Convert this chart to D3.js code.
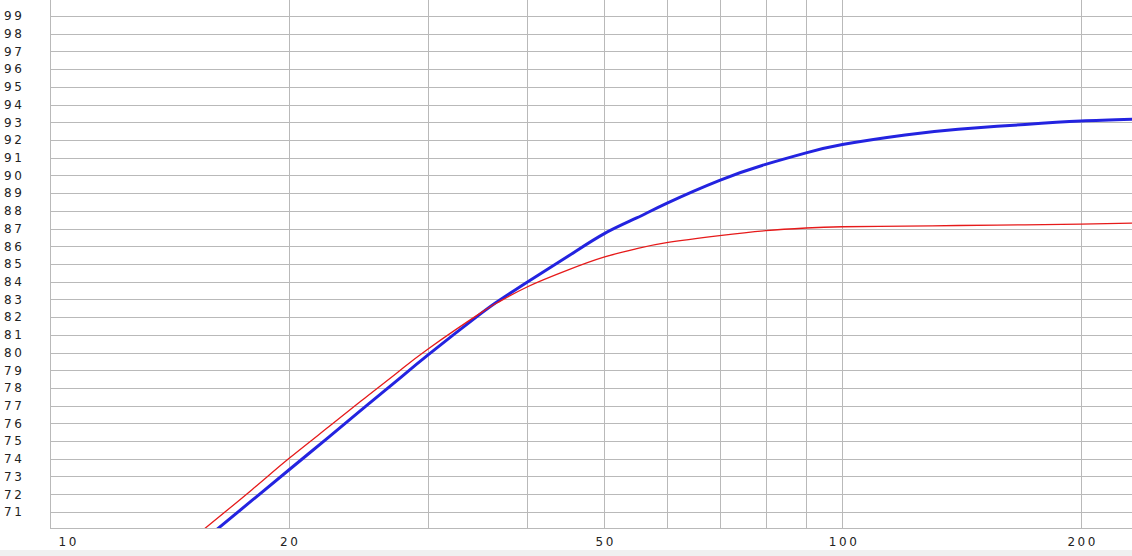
<!DOCTYPE html>
<html>
<head>
<meta charset="utf-8">
<script src="https://cdn.jsdelivr.net/npm/d3@7"></script>
<style>
  html, body { margin: 0; padding: 0; background: #ffffff; }
  svg { display: block; }
</style>
</head>
<body>
<svg id="chart" width="1132" height="556"></svg>
<script>
// ---- data ----
const xGridValues = [10, 20, 30, 40, 50, 60, 70, 80, 90, 100, 200];
const xTickLabels = [10, 20, 50, 100, 200];
const yTickValues = [71, 72, 73, 74, 75, 76, 77, 78, 79, 80, 81, 82, 83, 84, 85,
                     86, 87, 88, 89, 90, 91, 92, 93, 94, 95, 96, 97, 98, 99];

const blueX = [16.23, 18, 20, 22.5, 25, 27.5, 30, 35, 37, 40, 45, 50, 55, 60, 70, 80, 90, 100, 120, 140, 170, 200, 232];
const blueY = [70.0, 71.66, 73.35, 75.24, 76.94, 78.47, 79.87, 82.21, 82.98, 83.97, 85.42, 86.7, 87.6, 88.42, 89.72, 90.62, 91.27, 91.74, 92.28, 92.6, 92.88, 93.07, 93.17];

const redX = [15.62, 18, 20, 22.5, 25, 27.5, 30, 35, 37, 40, 45, 50, 55, 60, 70, 80, 90, 100, 120, 140, 170, 200, 232];
const redY = [70.0, 72.27, 74.0, 75.82, 77.45, 78.9, 80.2, 82.25, 82.9, 83.7, 84.65, 85.38, 85.86, 86.2, 86.6, 86.88, 87.03, 87.1, 87.14, 87.17, 87.21, 87.25, 87.3];

// ---- layout ----
const W = 1132, H = 556;
const pLeft = 50, pRight = 1132, pTop = 0, pBottom = 528;

const svg = d3.select("#chart");

const x = d3.scaleLog().domain([10, 232]).range([pLeft, pRight]);
const y = d3.scaleLinear().domain([70, 100]).range([529.6, -1.7]);

const crisp = v => Math.round(v) + 0.5;

// bottom grey band
svg.append("rect").attr("x", 0).attr("y", 550).attr("width", W).attr("height", H - 550)
  .attr("fill", "#f0f0f0");

const gridColor = "#b9b9b9";

// horizontal grid lines
svg.append("g").selectAll("line").data(yTickValues).join("line")
  .attr("x1", pLeft).attr("x2", pRight)
  .attr("y1", d => crisp(y(d))).attr("y2", d => crisp(y(d)))
  .attr("stroke", gridColor).attr("stroke-width", 1);

// vertical grid lines
svg.append("g").selectAll("line").data(xGridValues).join("line")
  .attr("x1", d => crisp(x(d))).attr("x2", d => crisp(x(d)))
  .attr("y1", pTop).attr("y2", pBottom)
  .attr("stroke", gridColor).attr("stroke-width", 1);

// frame (left + bottom)
svg.append("line").attr("x1", crisp(pLeft)).attr("x2", crisp(pLeft)).attr("y1", pTop).attr("y2", pBottom + 0.5)
  .attr("stroke", gridColor);
svg.append("line").attr("x1", pLeft).attr("x2", pRight).attr("y1", pBottom + 0.5).attr("y2", pBottom + 0.5)
  .attr("stroke", gridColor);

// y labels
const fontFam = "'DejaVu Sans', sans-serif";
svg.append("g").selectAll("text").data(yTickValues).join("text")
  .attr("x", 4).attr("y", d => y(d)).attr("dy", "0.36em")
  .attr("font-family", fontFam).attr("font-size", 12).attr("letter-spacing", "2.6px")
  .attr("fill", "#222").text(d => d);

// x labels via axis
const xAxis = d3.axisBottom(x).tickValues(xTickLabels).tickFormat(d3.format("d")).tickSize(0).tickPadding(0);
const gx = svg.append("g").attr("transform", `translate(0,${pBottom})`).call(xAxis);
gx.select(".domain").remove();
gx.selectAll("text")
  .attr("y", 18).attr("dy", 0)
  .attr("font-family", fontFam).attr("font-size", 12).attr("letter-spacing", "2.6px")
  .attr("fill", "#222").attr("dx", "1.3px");
gx.selectAll(".tick").filter(d => d === 10).select("text")
  .attr("text-anchor", "start").attr("dx", "8px");

// clip for lines
svg.append("clipPath").attr("id", "plotclip").append("rect")
  .attr("x", pLeft).attr("y", pTop).attr("width", pRight - pLeft).attr("height", pBottom - pTop);

const line = d3.line().x(d => x(d[0])).y(d => y(d[1])).curve(d3.curveNatural);

const plot = svg.append("g").attr("clip-path", "url(#plotclip)");
plot.append("path").datum(blueX.map((v, i) => [v, blueY[i]]))
  .attr("d", line).attr("fill", "none").attr("stroke", "#2323e0").attr("stroke-width", 3);
plot.append("path").datum(redX.map((v, i) => [v, redY[i]]))
  .attr("d", line).attr("fill", "none").attr("stroke", "#e61a1a").attr("stroke-width", 1.3);
</script>
</body>
</html>
